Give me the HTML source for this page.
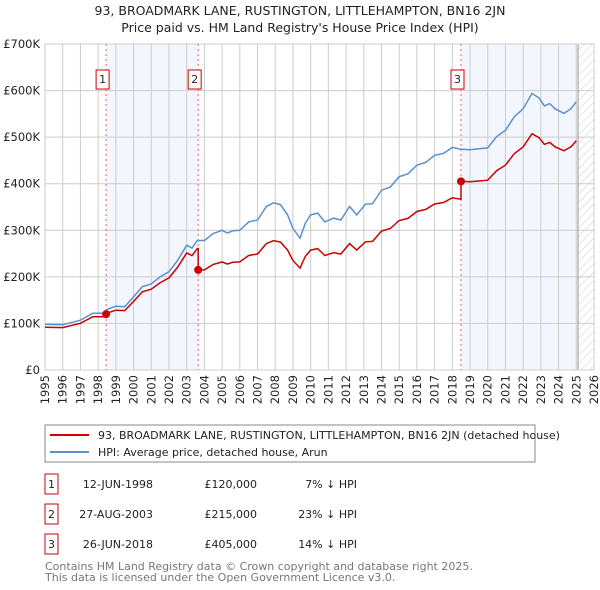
<!DOCTYPE html>
<html><head><meta charset="utf-8"><style>
body{margin:0;background:#fff;font-family:"DejaVu Sans","Liberation Sans",sans-serif;}
svg{display:block}
text{font-family:"DejaVu Sans","Liberation Sans",sans-serif;}
</style></head><body>
<svg id="chart" width="600" height="590" viewBox="0 0 600 590" xmlns="http://www.w3.org/2000/svg">
<defs><pattern id="hatch" patternUnits="userSpaceOnUse" width="6" height="6" patternTransform="rotate(45)"><line x1="0" y1="0" x2="0" y2="6" stroke="#ccc" stroke-width="1"/></pattern></defs>
<text x="300" y="15" text-anchor="middle" font-size="12.5" fill="#222">93, BROADMARK LANE, RUSTINGTON, LITTLEHAMPTON, BN16 2JN</text>
<text x="300" y="32" text-anchor="middle" font-size="12.5" fill="#222">Price paid vs. HM Land Registry's House Price Index (HPI)</text>
<g id="plot"></g>
<g>
<rect x="45" y="425" width="490" height="37" fill="#fff" stroke="#888"/>
<line x1="50" y1="435" x2="89" y2="435" stroke="#cc0000" stroke-width="2"/>
<text x="98" y="439" font-size="11" fill="#222">93, BROADMARK LANE, RUSTINGTON, LITTLEHAMPTON, BN16 2JN (detached house)</text>
<line x1="50" y1="452" x2="89" y2="452" stroke="#5b8fd0" stroke-width="2"/>
<text x="98" y="456" font-size="11" fill="#222">HPI: Average price, detached house, Arun</text>
</g>
<g id="table" font-size="11" fill="#222"></g>
<text x="45" y="570" font-size="11" fill="#777">Contains HM Land Registry data © Crown copyright and database right 2025.</text>
<text x="45" y="581" font-size="11" fill="#777">This data is licensed under the Open Government Licence v3.0.</text>
</svg>
<script>
const hpiYears=[1995,1996,1997,1997.7,1998.3,1998.5,1999,1999.5,2000,2000.5,2001,2001.5,2002,2002.5,2003,2003.3,2003.6,2004,2004.5,2005,2005.3,2005.6,2006,2006.5,2007,2007.5,2007.9,2008.3,2008.7,2009,2009.4,2009.7,2010,2010.4,2010.8,2011.3,2011.7,2012.2,2012.6,2013.1,2013.5,2014,2014.5,2015,2015.5,2016,2016.5,2017,2017.5,2018,2018.5,2019,2019.5,2020,2020.5,2021,2021.5,2022,2022.5,2022.9,2023.2,2023.5,2023.8,2024.3,2024.7,2025];
const hpiValues=[98,97,107,122,122,130,137,136,157,179,185,200,211,236,268,262,278,278,293,300,294,299,300,318,322,351,359,355,333,304,283,315,333,337,318,326,322,351,333,356,357,386,393,415,421,440,446,461,465,478,474,473,475,477,501,515,544,561,594,584,567,572,561,551,561,576];
const saleLabels=["1","2","3"];
const saleYears=[1998.45,2003.65,2018.49];
const salePrices=[120,215,405];
const saleDates=["12-JUN-1998","27-AUG-2003","26-JUN-2018"];
const salePriceText=["£120,000","£215,000","£405,000"];
const saleDiffText=["7% ↓ HPI","23% ↓ HPI","14% ↓ HPI"];
const yTicks=[0,100,200,300,400,500,600,700];
const yTickLabels=["£0","£100K","£200K","£300K","£400K","£500K","£600K","£700K"];
const xTicks=[1995,1996,1997,1998,1999,2000,2001,2002,2003,2004,2005,2006,2007,2008,2009,2010,2011,2012,2013,2014,2015,2016,2017,2018,2019,2020,2021,2022,2023,2024,2025,2026];
const dataEnd=2025.1;

const X0=45,X1=594,Y0=370,Y1=44;
const xs=y=>X0+(y-1995)/(2026-1995)*(X1-X0);
const ys=v=>Y0-v/700*(Y0-Y1);
const NS="http://www.w3.org/2000/svg";
const plot=document.getElementById('plot');
function mk(tag,attrs,parent){const e=document.createElementNS(NS,tag);for(const k in attrs)e.setAttribute(k,attrs[k]);(parent||plot).appendChild(e);return e;}
function hpiAt(t){if(t<=hpiYears[0])return hpiValues[0];for(let i=1;i<hpiYears.length;i++){if(t<=hpiYears[i]){const f=(t-hpiYears[i-1])/(hpiYears[i]-hpiYears[i-1]);return hpiValues[i-1]+f*(hpiValues[i]-hpiValues[i-1]);}}return hpiValues[hpiValues.length-1];}

let r=mk('rect',{x:xs(saleYears[0]),y:Y1,width:xs(saleYears[1])-xs(saleYears[0]),height:Y0-Y1,fill:'#eef3fc',opacity:0.7});

r=mk('rect',{x:xs(saleYears[2]),y:Y1,width:xs(dataEnd)-xs(saleYears[2]),height:Y0-Y1,fill:'#eef3fc',opacity:0.7});

r=mk('rect',{x:xs(dataEnd),y:Y1,width:X1-xs(dataEnd),height:Y0-Y1,fill:'url(#hatch)'});


yTicks.forEach((v,i)=>{const l=mk('line',{x1:X0,x2:X1,y1:ys(v),y2:ys(v),stroke:'#ccc'});

const t=mk('text',{x:X0-5,y:ys(v)+4,'text-anchor':'end','font-size':'11.5',fill:'#222'});t.textContent=yTickLabels[i];
});
xTicks.forEach(y=>{const l=mk('line',{x1:xs(y),x2:xs(y),y1:Y1,y2:Y0,stroke:'#ccc'});

const t=mk('text',{transform:`translate(${xs(y)+4},${Y0+5}) rotate(-90)`,'text-anchor':'end','font-size':'11.5',fill:'#222'});t.textContent=y;
});
let ed=mk('line',{x1:xs(dataEnd),x2:xs(dataEnd),y1:Y1,y2:Y0,stroke:'#999'});

let fr=mk('rect',{x:X0,y:Y1,width:X1-X0,height:Y0-Y1,fill:'none',stroke:'#ccc'});


saleYears.forEach((y,i)=>{const l=mk('line',{x1:xs(y),x2:xs(y),y1:Y1,y2:Y0,stroke:'#e06060','stroke-dasharray':'2,3'});

const g=mk('g',{});
mk('rect',{x:xs(y)-10,y:70,width:13,height:19,fill:'#fff',stroke:'#cc0000'},g);
const t=mk('text',{x:xs(y)-3.5,y:83,'text-anchor':'middle','font-size':'11',fill:'#222'},g);t.textContent=saleLabels[i];});

const hp=hpiYears.map((y,i)=>(i?'L':'M')+xs(y).toFixed(1)+','+ys(hpiValues[i]).toFixed(1)).join(' ');
const hl=mk('path',{d:hp,fill:'none',stroke:'#5b8fd0','stroke-width':1.5});


const allT=[...hpiYears,...saleYears].sort((a,b)=>a-b);
let d='';
allT.forEach((t)=>{let k=0;for(let i=0;i<saleYears.length;i++)if(t>=saleYears[i])k=i;
if(saleYears.includes(t)&&k>0){const prev=salePrices[k-1]*hpiAt(t)/hpiAt(saleYears[k-1]);d+='L'+xs(t).toFixed(1)+','+ys(prev).toFixed(1)+' ';}
const v=salePrices[k]*hpiAt(t)/hpiAt(saleYears[k]);
d+=(d?'L':'M')+xs(t).toFixed(1)+','+ys(v).toFixed(1)+' ';});
const pl=mk('path',{d:d,fill:'none',stroke:'#cc0000','stroke-width':1.5});

saleYears.forEach((y,i)=>{const c=mk('circle',{cx:xs(y),cy:ys(salePrices[i]),r:4,fill:'#cc0000'});
});

const tb=document.getElementById('table');
const rowY=[484,514,544];
saleLabels.forEach((lab,i)=>{const g=mk('g',{},tb);
mk('rect',{x:45,y:rowY[i]-10,width:13,height:20,fill:'#fff',stroke:'#cc0000'},g);
let t=mk('text',{x:51.5,y:rowY[i]+4,'text-anchor':'middle'},g);t.textContent=lab;
t=mk('text',{x:153,y:rowY[i]+4,'text-anchor':'end'},g);t.textContent=saleDates[i];
t=mk('text',{x:257,y:rowY[i]+4,'text-anchor':'end'},g);t.textContent=salePriceText[i];
t=mk('text',{x:357,y:rowY[i]+4,'text-anchor':'end'},g);t.textContent=saleDiffText[i];});
</script>
</body></html>
